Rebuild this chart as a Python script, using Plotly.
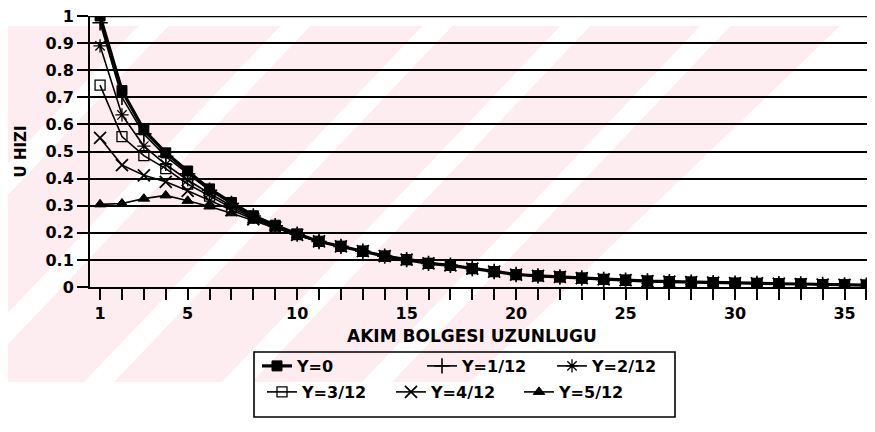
import plotly.graph_objects as go

# ---------------- data ----------------
x_vals = list(range(1, 37))
series_names = ["Y=0", "Y=1/12", "Y=2/12", "Y=3/12", "Y=4/12", "Y=5/12"]

# first ten points (x = 1..10) of each series
head_y0 = [1.0, 0.725, 0.58, 0.495, 0.428, 0.362, 0.312, 0.263, 0.228, 0.196]
head_y1 = [0.975, 0.70, 0.565, 0.482, 0.418, 0.357, 0.308, 0.262, 0.226, 0.195]
head_y2 = [0.89, 0.635, 0.52, 0.452, 0.395, 0.345, 0.300, 0.258, 0.224, 0.194]
head_y3 = [0.745, 0.555, 0.485, 0.437, 0.38, 0.335, 0.292, 0.255, 0.222, 0.193]
head_y4 = [0.55, 0.45, 0.412, 0.388, 0.355, 0.318, 0.284, 0.25, 0.22, 0.192]
head_y5 = [0.305, 0.308, 0.326, 0.338, 0.318, 0.297, 0.272, 0.245, 0.218, 0.191]
# common tail (x = 11..36), all series coincide there
tail = [0.168, 0.150, 0.132, 0.114, 0.101, 0.087, 0.080, 0.068, 0.057, 0.046,
        0.041, 0.037, 0.033, 0.028, 0.025, 0.022, 0.020, 0.018, 0.016, 0.014,
        0.013, 0.012, 0.011, 0.009, 0.008, 0.007]

x_tick_vals = list(range(1, 37))
x_tick_labels = [str(v) if v in (1, 5, 10, 15, 20, 25, 30, 35) else "" for v in x_tick_vals]
y_tick_vals = [0, 0.1, 0.2, 0.3, 0.4, 0.5, 0.6, 0.7, 0.8, 0.9, 1.0]
y_tick_labels = ["0", "0.1", "0.2", "0.3", "0.4", "0.5", "0.6", "0.7", "0.8", "0.9", "1"]
x_title = "AKIM BOLGESI UZUNLUGU"
y_title = "U HIZI"

heads = [head_y0, head_y1, head_y2, head_y3, head_y4, head_y5]

# ---------------- layout geometry (screen pixels; page has 8px body margin) ----------------
W, H = 875, 432
OFF = 8
ML, MR, MT, MB = 82, 10, 8, 153
PW = W - ML - MR
PH = H - MT - MB
PB = H - MB


def px(sx):
    return (sx - OFF - ML) / PW


def py(sy):
    return (PB - (sy - OFF)) / PH


FONT = "DejaVu Sans"

styles = [
    dict(symbol="square", size=10, lw=1, width=3.2),
    dict(symbol="cross-thin-open", size=11, lw=1.6, width=1.6),
    dict(symbol="asterisk-open", size=11, lw=1.3, width=1.6),
    dict(symbol="square-open", size=10, lw=1.3, width=1.6),
    dict(symbol="x-thin-open", size=12, lw=1.8, width=1.6),
    dict(symbol="triangle-up", size=10, lw=1, width=1.6),
]

legend_ids = ["legend", "legend2", "legend3", "legend4", "legend5", "legend6"]
# text start pixel, row centre pixel (screen)
legend_pos = [(298, 366), (463, 366), (593, 366), (303, 392), (432, 392), (560, 392)]

fig = go.Figure()
order = [5, 4, 3, 2, 1, 0]
for i in order:
    st = styles[i]
    fig.add_trace(go.Scatter(
        x=x_vals, y=heads[i] + tail, name=series_names[i],
        mode="lines+markers",
        line=dict(color="black", width=st["width"]),
        marker=dict(symbol=st["symbol"], size=st["size"], color="black",
                    line=dict(color="black", width=st["lw"])),
        legend=legend_ids[i], cliponaxis=True,
    ))

# ---------------- watermark (light pink stripes) ----------------
pink = "#fdedf0"
shapes = []
pts = [(0, 26), (840, 26), (470, 382), (0, 382)]
path = "M " + " L ".join(f"{px(a):.4f},{py(b):.4f}" for a, b in pts) + " Z"
shapes.append(dict(type="path", path=path, xref="paper", yref="paper",
                   fillcolor=pink, line=dict(width=0), layer="below"))
for c in [178, 320, 462, 600, 740]:
    sp = [(c - 15 - 0.95 * 20, 20), (c + 15 - 0.95 * 20, 20),
          (c + 15 - 0.95 * 390, 390), (c - 15 - 0.95 * 390, 390)]
    p = "M " + " L ".join(f"{px(a):.4f},{py(b):.4f}" for a, b in sp) + " Z"
    shapes.append(dict(type="path", path=p, xref="paper", yref="paper",
                       fillcolor="white", line=dict(width=0), layer="below"))

# top heavy line at y=1
shapes.append(dict(type="line", xref="paper", yref="y", x0=0, x1=1, y0=1, y1=1,
                   line=dict(color="black", width=2.6)))
# legend frame
shapes.append(dict(type="rect", xref="paper", yref="paper",
                   x0=px(254), x1=px(675), y0=py(417), y1=py(352),
                   line=dict(color="black", width=1.6), fillcolor="rgba(0,0,0,0)"))

layout_legends = {}
for lid, (tx, ty) in zip(legend_ids, legend_pos):
    layout_legends[lid] = dict(
        x=px(tx - 41), y=py(ty), xref="paper", yref="paper",
        xanchor="left", yanchor="middle", orientation="h",
        bgcolor="rgba(0,0,0,0)", borderwidth=0,
        font=dict(family=FONT, size=16, color="black", weight="bold"),
    )

fig.update_layout(
    width=W, height=H,
    margin=dict(l=ML, r=MR, t=MT, b=MB, autoexpand=False),
    paper_bgcolor="white", plot_bgcolor="rgba(0,0,0,0)",
    showlegend=True,
    shapes=shapes,
    font=dict(family=FONT, color="black"),
    annotations=[dict(text=x_title, xref="paper", yref="paper",
                      x=px(472), y=py(336), xanchor="center", yanchor="middle",
                      showarrow=False,
                      font=dict(family=FONT, size=17, color="black", weight="bold"))],
    **layout_legends,
)

fig.update_xaxes(
    range=[0.54, 36.3], tickmode="array", tickvals=x_tick_vals, ticktext=x_tick_labels,
    showgrid=False, zeroline=False,
    showline=True, linecolor="black", linewidth=2,
    ticks="outside", ticklen=11, tickwidth=2, tickcolor="black",
    ticklabeloverflow="allow",
    tickfont=dict(family=FONT, size=16, color="black", weight="bold"),
)
fig.update_yaxes(
    range=[0, 1.0], tickmode="array", tickvals=y_tick_vals, ticktext=y_tick_labels,
    showgrid=True, gridcolor="black", gridwidth=1.8, zeroline=False,
    showline=True, linecolor="black", linewidth=2,
    ticks="outside", ticklen=11, tickwidth=2, tickcolor="black",
    ticklabeloverflow="allow",
    tickfont=dict(family=FONT, size=16, color="black", weight="bold"),
    title=dict(text=y_title, standoff=15,
               font=dict(family=FONT, size=15, color="black", weight="bold")),
)

fig.write_html("out.html")
